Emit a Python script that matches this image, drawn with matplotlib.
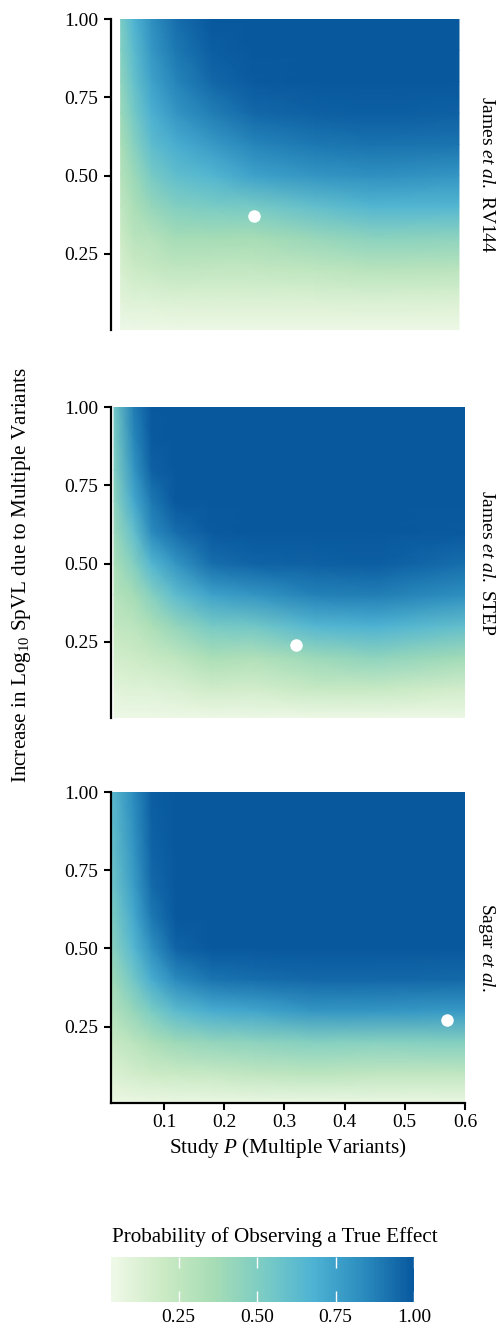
import numpy as np
import matplotlib.pyplot as plt
from matplotlib.colors import LinearSegmentedColormap, Normalize

plt.rcParams['font.family'] = ['Liberation Serif', 'DejaVu Serif']
plt.rcParams['mathtext.fontset'] = 'custom'
plt.rcParams['mathtext.rm'] = 'Liberation Serif'
plt.rcParams['mathtext.it'] = 'Liberation Serif:italic'

# increase in log10 SpVL (rows of each power table)
effect = [0.005, 0.1, 0.2, 0.3, 0.4, 0.5, 0.6, 0.7, 0.8, 0.9, 1.0]

# study P columns and power read per column (bottom -> top)
rv144_p = [0.028, 0.05, 0.08, 0.12, 0.18, 0.25, 0.35, 0.45, 0.59]
rv144_power = [
    [0.05, 0.10, 0.15, 0.20, 0.25, 0.30, 0.35, 0.40, 0.44, 0.48, 0.52],
    [0.05, 0.12, 0.20, 0.28, 0.34, 0.40, 0.47, 0.54, 0.59, 0.63, 0.67],
    [0.05, 0.12, 0.22, 0.30, 0.42, 0.53, 0.62, 0.69, 0.75, 0.79, 0.82],
    [0.05, 0.13, 0.25, 0.37, 0.49, 0.61, 0.70, 0.80, 0.86, 0.90, 0.93],
    [0.05, 0.13, 0.24, 0.37, 0.52, 0.66, 0.78, 0.88, 0.95, 0.98, 1.00],
    [0.05, 0.13, 0.24, 0.36, 0.53, 0.75, 0.86, 0.95, 0.99, 1.00, 1.00],
    [0.05, 0.13, 0.26, 0.41, 0.60, 0.80, 0.90, 0.97, 1.00, 1.00, 1.00],
    [0.05, 0.14, 0.29, 0.46, 0.66, 0.82, 0.92, 0.98, 1.00, 1.00, 1.00],
    [0.05, 0.13, 0.28, 0.45, 0.65, 0.80, 0.91, 0.97, 1.00, 1.00, 1.00],
]

step_p = [0.017, 0.05, 0.08, 0.12, 0.18, 0.25, 0.35, 0.45, 0.60]
step_power = [
    [0.05, 0.10, 0.17, 0.24, 0.30, 0.35, 0.40, 0.45, 0.49, 0.52, 0.55],
    [0.05, 0.12, 0.19, 0.27, 0.37, 0.49, 0.60, 0.72, 0.80, 0.85, 0.88],
    [0.05, 0.12, 0.22, 0.34, 0.48, 0.66, 0.84, 0.90, 0.97, 0.99, 1.00],
    [0.05, 0.14, 0.26, 0.43, 0.62, 0.80, 0.93, 1.00, 1.00, 1.00, 1.00],
    [0.05, 0.18, 0.35, 0.53, 0.75, 0.93, 0.99, 1.00, 1.00, 1.00, 1.00],
    [0.05, 0.17, 0.32, 0.55, 0.80, 0.96, 1.00, 1.00, 1.00, 1.00, 1.00],
    [0.05, 0.22, 0.40, 0.65, 0.87, 0.97, 1.00, 1.00, 1.00, 1.00, 1.00],
    [0.05, 0.22, 0.45, 0.68, 0.88, 0.98, 1.00, 1.00, 1.00, 1.00, 1.00],
    [0.05, 0.17, 0.38, 0.60, 0.82, 0.93, 0.99, 1.00, 1.00, 1.00, 1.00],
]

sagar_p = [0.012, 0.05, 0.08, 0.12, 0.18, 0.25, 0.35, 0.45, 0.60]
sagar_power = [
    [0.06, 0.13, 0.21, 0.30, 0.38, 0.45, 0.50, 0.55, 0.58, 0.61, 0.63],
    [0.06, 0.17, 0.28, 0.42, 0.55, 0.65, 0.72, 0.77, 0.80, 0.82, 0.84],
    [0.06, 0.20, 0.34, 0.52, 0.70, 0.82, 0.90, 0.94, 0.96, 0.97, 0.98],
    [0.06, 0.21, 0.39, 0.63, 0.84, 0.96, 1.00, 1.00, 1.00, 1.00, 1.00],
    [0.06, 0.22, 0.43, 0.70, 0.91, 1.00, 1.00, 1.00, 1.00, 1.00, 1.00],
    [0.06, 0.25, 0.45, 0.73, 0.93, 1.00, 1.00, 1.00, 1.00, 1.00, 1.00],
    [0.06, 0.27, 0.48, 0.80, 0.95, 1.00, 1.00, 1.00, 1.00, 1.00, 1.00],
    [0.06, 0.25, 0.47, 0.80, 0.95, 1.00, 1.00, 1.00, 1.00, 1.00, 1.00],
    [0.06, 0.25, 0.49, 0.78, 0.94, 1.00, 1.00, 1.00, 1.00, 1.00, 1.00],
]

study_labels = ['James $\\mathit{et\\ al.}$ RV144', 'James $\\mathit{et\\ al.}$ STEP', 'Sagar $\\mathit{et\\ al.}$']
study_x = [0.25, 0.32, 0.57]
study_y = [0.37, 0.24, 0.27]

gnbu = ['#f0f9e8', '#ccebc5', '#a8ddb5', '#7bccc4', '#4eb3d3', '#2b8cbe', '#08589e']
cmap = LinearSegmentedColormap.from_list('gnbu7', gnbu)
norm = Normalize(vmin=0.035, vmax=1.0)

fig = plt.figure(figsize=(5.0, 13.3), dpi=100)

bottoms = [0.7516, 0.4598, 0.1705]
panels = [(rv144_p, rv144_power), (step_p, step_power), (sagar_p, sagar_power)]

for i, (pvals, power) in enumerate(panels):
    ax = fig.add_axes([0.222, bottoms[i], 0.708, 0.2340])
    X, Y = np.meshgrid(pvals, effect)
    ax.pcolormesh(X, Y, np.array(power).T, shading='gouraud', cmap=cmap, norm=norm)
    ax.plot(study_x[i], study_y[i], 'o', color='white', ms=9, mec='none')
    ax.set_xlim(0.012, 0.6)
    ax.set_ylim(0.005, 1.0)
    ax.set_yticks([0.25, 0.5, 0.75, 1.0])
    ax.set_yticklabels(['0.25', '0.50', '0.75', '1.00'])
    for s in ['top', 'right']:
        ax.spines[s].set_visible(False)
    ax.spines['left'].set_linewidth(1.6)
    ax.tick_params(axis='y', length=5, width=1.5, labelsize=14, pad=4)
    if i < 2:
        ax.spines['bottom'].set_visible(False)
        ax.set_xticks([])
    else:
        ax.spines['bottom'].set_linewidth(1.6)
        ax.set_xticks([0.1, 0.2, 0.3, 0.4, 0.5, 0.6])
        ax.set_xticklabels(['0.1', '0.2', '0.3', '0.4', '0.5', '0.6'])
        ax.tick_params(axis='x', length=5, width=1.5, labelsize=14, pad=3)
        ax.set_xlabel('Study $\\mathit{P}$ (Multiple Variants)', fontsize=15.2, labelpad=3)
    ax.text(1.06, 0.5, study_labels[i], transform=ax.transAxes, rotation=-90,
            va='center', ha='center', fontsize=14)

fig.text(0.044, 1 - 575 / 1330, 'Increase in Log$_{10}$ SpVL due to Multiple Variants',
         rotation=90, va='center', ha='center', fontsize=15.2)

# colorbar
cax = fig.add_axes([0.222, 0.02105, 0.606, 0.0338])
sm = plt.cm.ScalarMappable(norm=norm, cmap=cmap)
cb = fig.colorbar(sm, cax=cax, orientation='horizontal')
cb.outline.set_visible(False)
cb.set_ticks([0.25, 0.5, 0.75, 1.0])
cb.set_ticklabels(['0.25', '0.50', '0.75', '1.00'])
cax.tick_params(axis='x', direction='in', length=8, width=1, colors='white',
                labelcolor='black', labelsize=14, bottom=True, top=True, pad=5)
fig.text(0.224, 1 - 1237 / 1330, 'Probability of Observing a True Effect',
         va='center', ha='left', fontsize=15.2)

fig.savefig('out.png', dpi=100)
